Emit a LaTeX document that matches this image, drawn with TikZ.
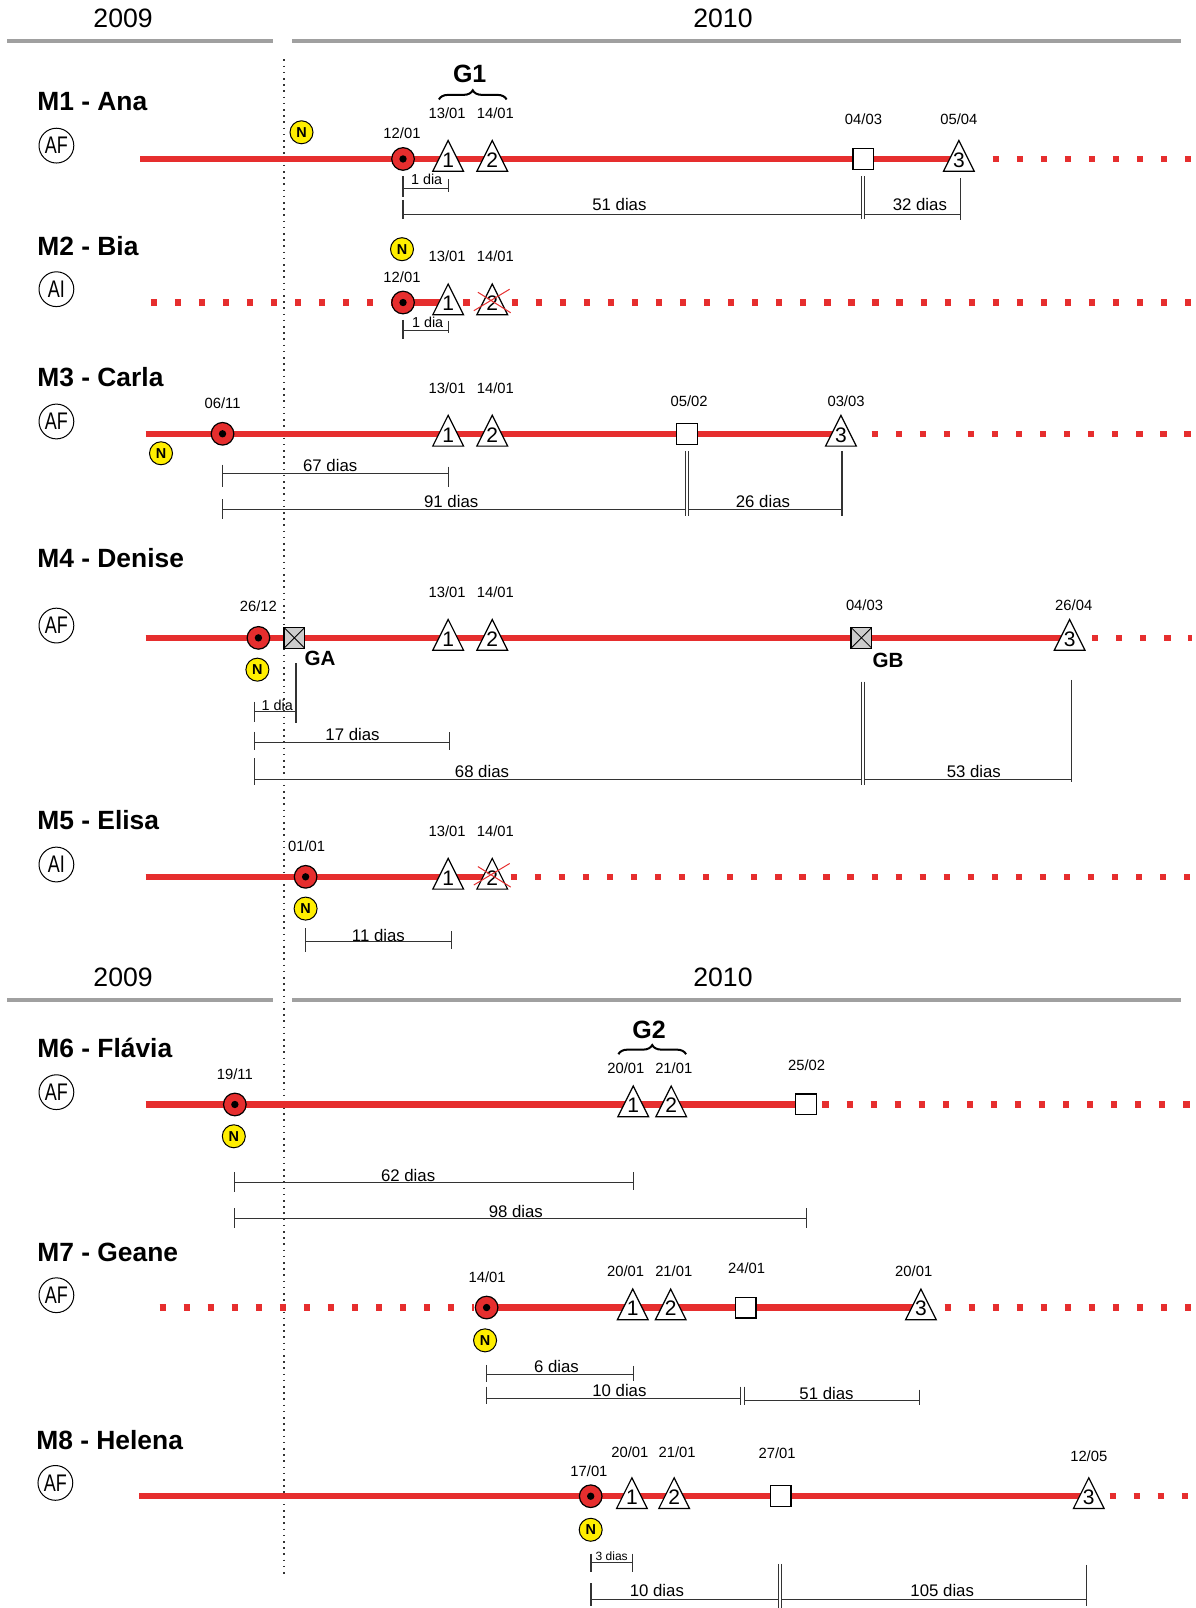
\documentclass[tikz,border=0pt]{standalone}
\usepackage{fontspec}
\setmainfont{Liberation Sans}
\usetikzlibrary{decorations.pathreplacing}
\definecolor{myred}{RGB}{230,46,46}
\definecolor{myyellow}{RGB}{255,238,0}
\definecolor{hgray}{RGB}{160,160,160}
\definecolor{sqgray}{RGB}{205,205,205}
\newcommand\mytri[4]{%
  \draw[line width=0.6pt, fill=white] (#1-15,#2+12) -- (#1,#2-18) -- (#1+15,#2+12) -- cycle;
  \node[trinum] (#4) at (#1,#2+1) {#3};}
\newcommand\mycross[2]{%
  \draw[myred, line width=0.5pt] (#1-14,#2-10) -- (#1+18,#2+10) (#1-18,#2+8) -- (#1+17,#2-13);}
\newcommand\myrdot[3]{%
  \node[rdot] (#3) at (#1,#2) {}; \fill (#1,#2) circle (3.6);}
\begin{document}
\begin{tikzpicture}[x=0.51285pt,y=-0.51285pt,
  redl/.style={draw=myred, line width=3.2pt},
  redd/.style={draw=myred, line width=3.1pt, dash pattern=on 3.1pt off 8.93pt},
  hdr/.style={draw=hgray, line width=2.1pt},
  vdots/.style={draw=black!80, line width=0.8pt, dash pattern=on 0.8pt off 2.3pt},
  dimln/.style={draw=black!80, line width=0.55pt},
  yr/.style={font=\fontsize{13.3}{14}\selectfont, inner sep=0pt},
  ttl/.style={anchor=west, inner sep=0pt, font=\bfseries\fontsize{13.2}{14}\selectfont},
  grp/.style={circle, draw, line width=0.5pt, minimum size=17.4pt, inner sep=0pt, font=\fontsize{12}{12}\selectfont},
  nmark/.style={circle, draw, fill=myyellow, line width=0.5pt, minimum size=11.5pt, inner sep=0pt, font=\bfseries\fontsize{7.2}{7.2}\selectfont},
  rdot/.style={circle, draw, fill=myred, line width=0.6pt, minimum size=11.3pt, inner sep=0pt},
  sqr/.style={draw, fill=white, line width=0.6pt, minimum size=10.4pt, inner sep=0pt},
  gsqr/.style={sqr, fill=sqgray, path picture={\draw[line width=0.4pt] (path picture bounding box.north west) -- (path picture bounding box.south east) (path picture bounding box.south west) -- (path picture bounding box.north east);}},
  dtxt/.style={font=\fontsize{7.4}{7.4}\selectfont, inner sep=0pt},
  trinum/.style={font=\fontsize{10.5}{10.5}\selectfont, inner sep=0pt},
  dlab/.style={font=\fontsize{8.4}{8.4}\selectfont, inner sep=0pt},
  dsm/.style={font=\fontsize{7.2}{7.2}\selectfont, inner sep=0pt},
  dxs/.style={font=\fontsize{6}{6}\selectfont, inner sep=0pt},
  glab/.style={font=\bfseries\fontsize{12.5}{12.5}\selectfont, inner sep=0pt},
  gab/.style={font=\bfseries\fontsize{10.3}{10.3}\selectfont, inner sep=0pt},
  brc/.style={decorate, decoration={brace, amplitude=4.6pt}, line width=1pt},
]
\fill[white] (0,0) rectangle (1166,1568);
\useasboundingbox (0,0) rectangle (1166,1568);

% year vertical separator
\draw[vdots] (277,58) -- (277,1538);

% headers
\node[yr] (ya1) at (120,18) {2009};
\node[yr] (yb1) at (705,18) {2010};
\draw[hdr] (7,40) -- (266,40);
\draw[hdr] (285,40) -- (1152,40);
\node[yr] (ya2) at (120,953) {2009};
\node[yr] (yb2) at (705,953) {2010};
\draw[hdr] (7,975) -- (266,975);
\draw[hdr] (285,975) -- (1152,975);

% ---------------- M1
\node[ttl] (m1) at (36,99) {M1 - Ana};
\node[grp] (c1) at (55,142) {\scalebox{0.75}[1]{AF}};
\draw[redl] (137,155) -- (935,155);
\draw[redd] (968,155) -- (1162,155);
\node[nmark] (n1) at (294,129) {N};
\myrdot{393}{155}{r1}
\node[dtxt] at (392,130) {12/01};
\mytri{437}{155}{1}{a11}
\mytri{480}{155}{2}{a12}
\node[dtxt] at (436,110) {13/01};
\node[dtxt] at (483,110) {14/01};
\node[glab] (gl1) at (458,72) {G1};
\draw[brc] (428,97) -- (494,97);
\node[sqr] (s1) at (842,155) {};
\node[dtxt] at (842,116) {04/03};
\mytri{935}{155}{3}{a13}
\node[dtxt] at (935,116) {05/04};
\draw[dimln] (393,172) -- (393,192) (393,184) -- (437,184) (437,175) -- (437,187);
\node[dsm] at (416,175) {1 dia};
\draw[dimln] (393,195) -- (393,214) (393,209) -- (840,209);
\draw[dimln] (840,172) -- (840,214) (843,172) -- (843,214);
\draw[dimln] (843,209) -- (937,209) (937,174) -- (937,215);
\node[dlab] at (604,199) {51 dias};
\node[dlab] at (897,199) {32 dias};

% ---------------- M2
\node[ttl] (m2) at (36,240) {M2 - Bia};
\node[grp] (c2) at (55,282) {\scalebox{0.75}[1]{AI}};
\draw[redd] (147,295) -- (1162,295);
\draw[redl] (393,295) -- (437,295);
\node[nmark] (n2) at (392,243) {N};
\myrdot{393}{295}{r2}
\node[dtxt] at (392,270) {12/01};
\mytri{437}{295}{1}{a21}
\mytri{480}{295}{2}{a22}
\mycross{480}{295}
\node[dtxt] at (436,250) {13/01};
\node[dtxt] at (483,250) {14/01};
\draw[dimln] (393,312) -- (393,331) (393,322) -- (437,322) (437,313) -- (437,325);
\node[dsm] at (417,314) {1 dia};

% ---------------- M3
\node[ttl] (m3) at (36,368) {M3 - Carla};
\node[grp] (c3) at (55,411) {\scalebox{0.75}[1]{AF}};
\draw[redl] (142,423) -- (820,423);
\draw[redd] (850,423) -- (1162,423);
\node[nmark] (n3) at (157,442) {N};
\myrdot{217}{423}{r3}
\node[dtxt] at (217,393) {06/11};
\mytri{437}{423}{1}{a31}
\mytri{480}{423}{2}{a32}
\node[dtxt] at (436,379) {13/01};
\node[dtxt] at (483,379) {14/01};
\node[sqr] (s3) at (670,423) {};
\node[dtxt] at (672,391) {05/02};
\mytri{820}{423}{3}{a33}
\node[dtxt] at (825,391) {03/03};
\draw[dimln] (217,453) -- (217,475) (217,461.5) -- (437,461.5) (437,455) -- (437,475);
\node[dlab] at (322,454) {67 dias};
\draw[dimln] (217,487) -- (217,506) (217,496.5) -- (668,496.5);
\draw[dimln] (668,440) -- (668,503) (671,440) -- (671,503);
\draw[dimln] (671,496.5) -- (821,496.5) (821,440) -- (821,503);
\node[dlab] at (440,489) {91 dias};
\node[dlab] at (744,489) {26 dias};

% ---------------- M4
\node[ttl] (m4) at (36,544) {M4 - Denise};
\node[grp] (c4) at (55,610) {\scalebox{0.75}[1]{AF}};
\draw[redl] (142,622) -- (1043,622);
\draw[redd] (1065,622) -- (1162,622);
\myrdot{252}{622}{r4}
\node[dtxt] at (252,591) {26/12};
\node[nmark] (n4) at (251,653) {N};
\node[gsqr] (ga) at (287,622) {};
\node[gab] at (312,642) {GA};
\mytri{437}{622}{1}{a41}
\mytri{480}{622}{2}{a42}
\node[dtxt] at (436,577) {13/01};
\node[dtxt] at (483,577) {14/01};
\node[gsqr] (gb) at (840,622) {};
\node[dtxt] at (843,590) {04/03};
\node[gab] at (866,644) {GB};
\mytri{1043}{622}{3}{a43}
\node[dtxt] at (1047,590) {26/04};
\draw[dimln] (248.6,684.5) -- (248.6,704) (248.6,693.8) -- (288.6,693.8) (288.6,646.6) -- (288.6,705);
\node[dsm] at (270.4,688) {1 dia};
\draw[dimln] (248.6,713.7) -- (248.6,731) (248.6,724) -- (438.7,724) (438.7,714) -- (438.7,731);
\node[dlab] at (343.8,716.6) {17 dias};
\draw[dimln] (248.6,739.3) -- (248.6,765.3) (248.6,760.5) -- (840,760.5);
\draw[dimln] (840,664.6) -- (840,765.3) (843,664.6) -- (843,765.3);
\draw[dimln] (843,760.5) -- (1044.8,760.5) (1044.8,663) -- (1044.8,763);
\node[dlab] at (470,752.6) {68 dias};
\node[dlab] at (949.6,752.7) {53 dias};

% ---------------- M5
\node[ttl] (m5) at (36,800) {M5 - Elisa};
\node[grp] (c5) at (55,843) {\scalebox{0.75}[1]{AI}};
\draw[redl] (142,855) -- (480,855);
\draw[redd] (498,855) -- (1162,855);
\myrdot{298}{855}{r5}
\node[dtxt] at (299,825) {01/01};
\node[nmark] (n5) at (298,886) {N};
\mytri{437}{855}{1}{a51}
\mytri{480}{855}{2}{a52}
\mycross{480}{855}
\node[dtxt] at (436,811) {13/01};
\node[dtxt] at (483,811) {14/01};
\draw[dimln] (298,905) -- (298,928) (298,918) -- (440,918) (440,908) -- (440,925);
\node[dlab] at (369,912) {11 dias};

% ---------------- M6
\node[ttl] (m6) at (36,1022) {M6 - Flávia};
\node[grp] (c6) at (55,1065) {\scalebox{0.75}[1]{AF}};
\draw[redl] (142,1077) -- (786,1077);
\draw[redd] (802,1077) -- (1162,1077);
\myrdot{229}{1077}{r6}
\node[dtxt] at (229,1047) {19/11};
\node[nmark] (n6) at (228,1108) {N};
\mytri{617.5}{1077}{1}{a61}
\mytri{654.5}{1077}{2}{a62}
\node[dtxt] at (610.3,1042) {20/01};
\node[dtxt] at (657,1042) {21/01};
\node[glab] (gl2) at (633,1004) {G2};
\draw[brc] (603,1028) -- (669,1028);
\node[sqr] (s6) at (786,1077) {};
\node[dtxt] at (786.5,1039) {25/02};
\draw[dimln] (229,1143) -- (229,1162) (229,1153) -- (618,1153) (618,1143) -- (618,1160);
\node[dlab] at (398,1146) {62 dias};
\draw[dimln] (229,1178) -- (229,1197) (229,1188) -- (786,1188) (786,1178) -- (786,1197);
\node[dlab] at (503,1181) {98 dias};

% ---------------- M7
\node[ttl] (m7) at (36,1221) {M7 - Geane};
\node[grp] (c7) at (55,1263) {\scalebox{0.75}[1]{AF}};
\draw[redd] (155.6,1275) -- (462,1275);
\draw[redl] (474,1275) -- (898,1275);
\draw[redd] (921,1275) -- (1162,1275);
\myrdot{474.5}{1275}{r7}
\node[dtxt] at (475,1245) {14/01};
\node[nmark] (n7) at (473,1307) {N};
\mytri{617}{1275}{1}{a71}
\mytri{654}{1275}{2}{a72}
\node[dtxt] at (610,1240) {20/01};
\node[dtxt] at (657,1240) {21/01};
\node[sqr] (s7) at (727,1275) {};
\node[dtxt] at (728,1237) {24/01};
\mytri{898}{1275}{3}{a73}
\node[dtxt] at (891,1240) {20/01};
\draw[dimln] (474,1330.8) -- (474,1348) (474,1340) -- (617.6,1340) (617.6,1332) -- (617.6,1347);
\node[dlab] at (542.6,1332.4) {6 dias};
\draw[dimln] (474,1352) -- (474,1369.5) (474,1364) -- (722,1364);
\draw[dimln] (722,1352) -- (722,1370) (725.8,1352) -- (725.8,1370);
\draw[dimln] (725.8,1365.7) -- (896.4,1365.7) (896.4,1355) -- (896.4,1370);
\node[dlab] at (604,1355.8) {10 dias};
\node[dlab] at (806,1358.4) {51 dias};

% ---------------- M8
\node[ttl] (m8) at (35,1404) {M8 - Helena};
\node[grp] (c8) at (54,1446) {\scalebox{0.75}[1]{AF}};
\draw[redl] (136,1459) -- (1062,1459);
\draw[redd] (1082,1459) -- (1162,1459);
\myrdot{576}{1459}{r8}
\node[dtxt] at (574.3,1434.8) {17/01};
\node[nmark] (n8) at (576,1491.7) {N};
\mytri{616.2}{1459}{1}{a81}
\mytri{657.4}{1459}{2}{a82}
\node[dtxt] at (614.2,1416.3) {20/01};
\node[dtxt] at (660.3,1416.3) {21/01};
\node[sqr] (s8) at (761.2,1459) {};
\node[dtxt] at (757.8,1417.5) {27/01};
\mytri{1061.7}{1459}{3}{a83}
\node[dtxt] at (1061.7,1420.2) {12/05};
\draw[dimln] (576.3,1515) -- (576.3,1533) (576.3,1523.5) -- (617,1523.5) (617,1515) -- (617,1533);
\node[dxs] at (596.5,1517) {3 dias};
\draw[dimln] (576.3,1544) -- (576.3,1566) (576.3,1559.3) -- (759,1559.3);
\draw[dimln] (759,1525) -- (759,1568) (762,1525) -- (762,1568);
\draw[dimln] (762,1559.3) -- (1059.8,1559.3) (1059.8,1526) -- (1059.8,1566);
\node[dlab] at (640.5,1550.8) {10 dias};
\node[dlab] at (918.8,1550.8) {105 dias};
\end{tikzpicture}
\end{document}
